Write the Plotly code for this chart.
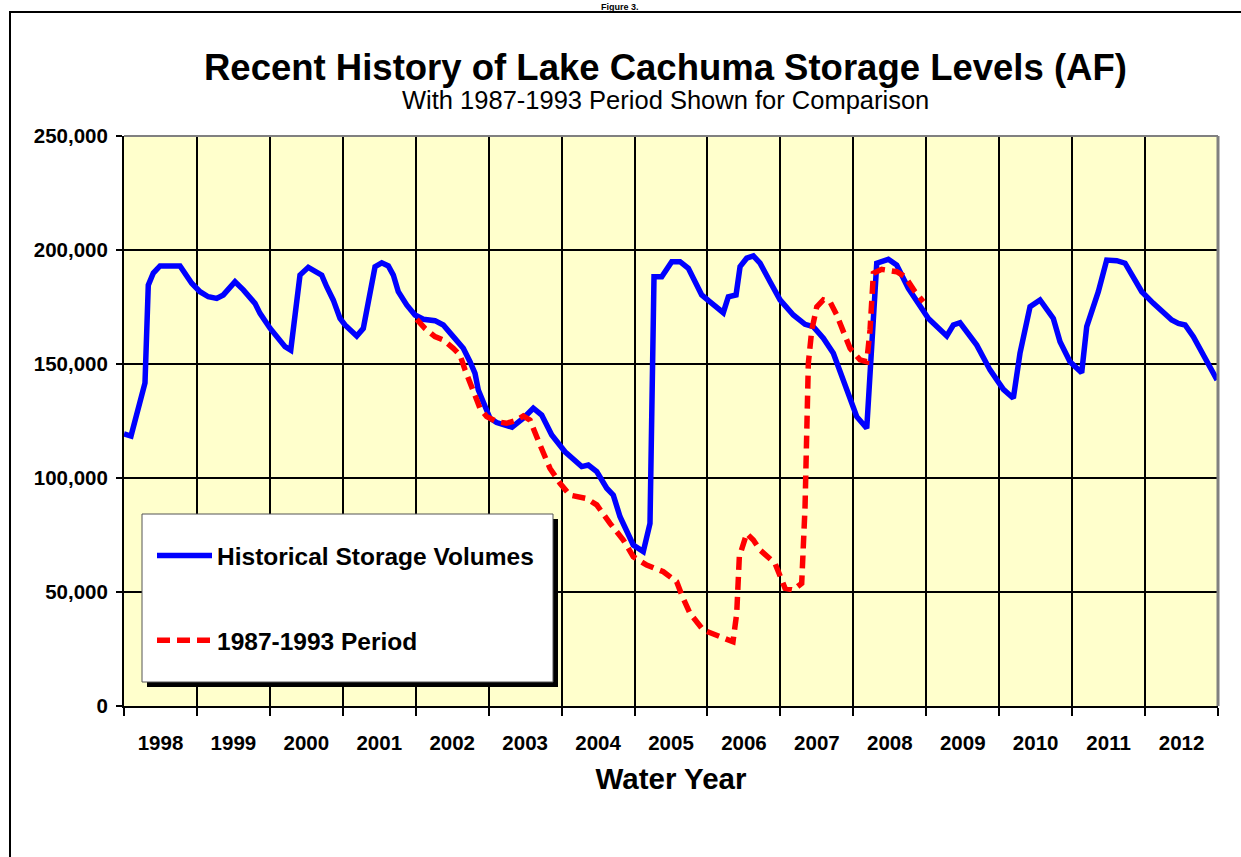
import plotly.graph_objects as go

# time in years since the start of water year 1998 (Oct 1997), storage in AF
hist_t = [0.000, 0.096, 0.288, 0.333, 0.402, 0.494, 0.768, 0.928, 1.042, 1.156,
          1.271, 1.362, 1.522, 1.636, 1.796, 1.865, 2.002, 2.116, 2.208, 2.286,
          2.413, 2.527, 2.711, 2.779, 2.870, 2.962, 3.030, 3.191, 3.281, 3.442,
          3.534, 3.624, 3.693, 3.761, 3.876, 3.990, 4.104, 4.264, 4.378, 4.515,
          4.652, 4.744, 4.813, 4.858, 4.927, 5.018, 5.110, 5.320, 5.475, 5.612,
          5.727, 5.865, 6.047, 6.276, 6.366, 6.482, 6.619, 6.709, 6.801, 6.915,
          6.983, 7.120, 7.212, 7.267, 7.373, 7.510, 7.624, 7.738, 7.921, 8.035,
          8.217, 8.286, 8.392, 8.447, 8.538, 8.629, 8.721, 8.858, 8.995, 9.177,
          9.338, 9.451, 9.589, 9.726, 9.863, 10.047, 10.184, 10.321, 10.480, 10.595,
          10.754, 11.029, 11.281, 11.371, 11.463, 11.692, 11.874, 12.057, 12.194, 12.285,
          12.423, 12.560, 12.742, 12.834, 12.971, 13.131, 13.200, 13.359, 13.474, 13.612,
          13.726, 13.955, 14.114, 14.366, 14.457, 14.549, 14.662, 14.823, 14.987]
hist_af = [119300, 118400, 141700, 184600, 189900, 193000, 193000, 185400, 181700, 179500,
           178800, 180300, 186100, 182500, 176600, 172200, 165700, 161300, 157600, 156100,
           189000, 192400, 189000, 183900, 178000, 170000, 167100, 162300, 165600, 192700,
           194400, 193000, 189000, 181700, 175900, 171500, 169600, 169000, 167100, 162000,
           156900, 151000, 145900, 138600, 132800, 126200, 124300, 122300, 126200, 130600,
           127600, 118900, 111500, 105000, 105700, 102800, 95500, 92500, 83000, 74300,
           70600, 67700, 80100, 188300, 188300, 194900, 194900, 192000, 180300, 177300,
           172500, 179500, 180300, 192700, 196400, 197400, 194200, 186100, 178100, 171500,
           167400, 166400, 161300, 154700, 143000, 126900, 121800, 194200, 195900, 193400,
           183200, 170000, 162300, 167100, 168100, 158300, 147400, 138900, 135000, 154700,
           175100, 178100, 170000, 159800, 151000, 146200, 166400, 181700, 195600, 195300,
           194200, 181700, 176600, 169300, 167800, 167100, 162000, 152500, 143000]

period_t = [4.013, 4.127, 4.264, 4.378, 4.515, 4.607, 4.676, 4.744, 4.813, 4.881,
            4.973, 5.110, 5.247, 5.384, 5.475, 5.567, 5.704, 5.841, 5.978, 6.115,
            6.344, 6.482, 6.664, 6.846, 6.983, 7.167, 7.395, 7.578, 7.647, 7.761,
            7.943, 8.127, 8.350, 8.401, 8.437, 8.538, 8.629, 8.721, 8.926, 9.018,
            9.064, 9.177, 9.292, 9.338, 9.362, 9.383, 9.430, 9.499, 9.589, 9.680,
            9.772, 9.863, 9.955, 10.092, 10.184, 10.229, 10.275, 10.389, 10.595, 10.709,
            10.846, 10.960]
period_af = [169600, 165600, 162000, 160500, 156900, 153900, 147400, 141500, 135700, 130600,
             126900, 124700, 124000, 125400, 127200, 125400, 114500, 104200, 97700, 92500,
             91000, 88200, 80100, 72800, 65500, 61800, 58900, 54500, 48700, 40600,
             33300, 31100, 28200, 40600, 65500, 75700, 72800, 68400, 62600, 55300,
             51600, 50900, 53800, 87400, 121000, 150300, 164900, 175100, 178100, 177300,
             171500, 164900, 156900, 151800, 151000, 164900, 189800, 191500, 190500, 188300,
             181700, 177300]

water_years = [str(y) for y in range(1998, 2013)]
y_ticks = [0, 50000, 100000, 150000, 200000, 250000]

FONT = "Arial, 'Liberation Sans', sans-serif"

# plot area in pixels: x 124..1218, y 136..706
def px_x(p):
    return (p - 124) / 1094


def px_y(p):
    return (706 - p) / 570


fig = go.Figure()
fig.add_trace(go.Scatter(
    x=hist_t, y=hist_af, mode="lines", name="<b>Historical Storage Volumes</b>",
    legendgroup="hist", line=dict(color="#0000FF", width=5.5),
))
fig.add_trace(go.Scatter(
    x=period_t, y=period_af, mode="lines", name="<b>1987-1993 Period</b>",
    legendgroup="period", line=dict(color="#FF0000", width=5.5, dash="13px,7px"),
))

shapes = [
    # page frame
    dict(type="rect", xref="paper", yref="paper", x0=px_x(10), x1=px_x(1270),
         y0=px_y(12), y1=px_y(900), line=dict(color="black", width=2), layer="below"),
    # gray top / right edges of the plot area
    dict(type="line", xref="paper", yref="paper", x0=0, x1=1, y0=1, y1=1,
         line=dict(color="#808080", width=2)),
    dict(type="line", xref="paper", yref="paper", x0=1, x1=1, y0=0, y1=1,
         line=dict(color="#808080", width=3)),
    # legend shadow and box
    dict(type="rect", xref="paper", yref="paper", x0=px_x(147), x1=px_x(558),
         y0=px_y(687), y1=px_y(519), fillcolor="black", line=dict(width=0), layer="above"),
    dict(type="rect", xref="paper", yref="paper", x0=px_x(142), x1=px_x(553),
         y0=px_y(682), y1=px_y(514), fillcolor="white",
         line=dict(color="#555555", width=1), layer="above"),
]

annotations = [
    dict(text="<b>Figure 3.</b>", xref="paper", yref="paper", x=px_x(620), y=px_y(13),
         xanchor="center", yanchor="bottom", showarrow=False, borderpad=0,
         font=dict(family=FONT, size=9, color="black")),
    dict(text="<b>Recent History of Lake Cachuma Storage Levels (AF)</b>", xref="paper",
         yref="paper", x=px_x(665), y=px_y(67), xanchor="center", yanchor="middle",
         showarrow=False, font=dict(family=FONT, size=36.5, color="black")),
    dict(text="With 1987-1993 Period Shown for Comparison", xref="paper", yref="paper",
         x=px_x(665), y=px_y(100), xanchor="center", yanchor="middle", showarrow=False,
         font=dict(family=FONT, size=25.5, color="black")),
]

fig.update_layout(
    width=1241, height=857,
    margin=dict(l=124, r=23, t=136, b=151, autoexpand=False),
    paper_bgcolor="white", plot_bgcolor="#FFFFCC",
    font=dict(family=FONT, color="black"),
    shapes=shapes, annotations=annotations,
    legend=dict(x=px_x(152), y=px_y(533), xanchor="left", yanchor="top",
                bgcolor="rgba(0,0,0,0)", borderwidth=0, tracegroupgap=50,
                itemwidth=55, font=dict(family=FONT, size=24.5, color="black")),
    xaxis=dict(
        range=[0, 15], tickmode="array", tickvals=[i + 0.5 for i in range(15)],
        ticktext=["<b>%s</b>" % y for y in water_years], ticks="outside", ticklen=17,
        tickcolor="rgba(0,0,0,0)", showgrid=False, zeroline=False,
        showline=True, linecolor="black", linewidth=2,
        tickfont=dict(family=FONT, size=20.5, color="black"),
        minor=dict(tickmode="linear", tick0=0, dtick=1, showgrid=True, gridcolor="black",
                   gridwidth=2, ticks="outside", ticklen=8, tickcolor="black", tickwidth=2),
        title=dict(text="<b>Water Year</b>", font=dict(family=FONT, size=29.5, color="black"),
                   standoff=16),
    ),
    yaxis=dict(
        range=[0, 250000], tickmode="array", tickvals=y_ticks,
        ticktext=["<b>{:,}</b>".format(v) for v in y_ticks], ticks="outside", ticklen=6,
        tickcolor="black", tickwidth=2, showgrid=True, gridcolor="black", gridwidth=2,
        zeroline=False, showline=True, linecolor="black", linewidth=2,
        tickfont=dict(family=FONT, size=20.5, color="black"), ticklabelstandoff=4,
    ),
)

# drop the default 8px page margin so the figure sits at the window's corner
fig.write_html(
    "out.html",
    config={"displayModeBar": False},
    post_script="document.body.style.margin='0';document.body.style.overflow='hidden';",
)
